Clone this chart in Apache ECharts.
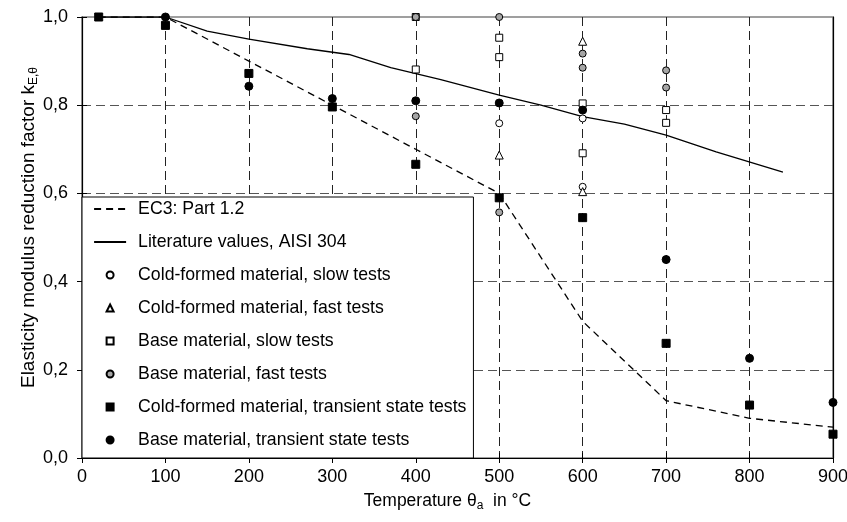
<!DOCTYPE html>
<html>
<head>
<meta charset="utf-8">
<script src="https://cdn.jsdelivr.net/npm/echarts@6/dist/echarts.min.js"></script>
<style>
  html, body { margin: 0; padding: 0; background: #fff; }
  #chart { width: 847px; height: 522px; }
</style>
</head>
<body>
<div id="chart"></div>
<script>
const FONT = '"Liberation Sans", Arial, sans-serif';

// EC3 Part 1.2 and literature curve (temperature in °C, reduction factor)
const ec3Temps = [20, 100, 200, 300, 400, 500, 600, 700, 800, 900];
const ec3Values = [1.0, 1.0, 0.90, 0.80, 0.70, 0.60, 0.31, 0.13, 0.09, 0.07];
const litTemps = [20, 100, 150, 200, 270, 320, 370, 430, 500, 550, 600, 650, 700, 760, 840];
const litValues = [1.0, 1.0, 0.968, 0.95, 0.928, 0.915, 0.885, 0.858, 0.823, 0.80, 0.774, 0.757, 0.732, 0.694, 0.648];

// test results [temperature, k]
const coldSlow = [[500, 0.759], [600, 0.770], [600, 0.615]];
const coldFast = [[500, 0.687], [600, 0.945], [600, 0.604]];
const baseSlow = [[400, 1.0], [400, 0.881], [500, 0.953], [500, 0.909], [600, 0.804], [600, 0.691], [700, 0.789], [700, 0.76]];
const baseFast = [[400, 1.0], [400, 0.775], [500, 1.0], [500, 0.557], [600, 0.917], [600, 0.885], [700, 0.879], [700, 0.84]];
const coldTransient = [[20, 1.0], [100, 0.981], [200, 0.872], [300, 0.796], [400, 0.666], [500, 0.59], [600, 0.545], [700, 0.26], [800, 0.12], [900, 0.054]];
const baseTransient = [[100, 1.0], [200, 0.843], [300, 0.815], [400, 0.81], [500, 0.805], [600, 0.789], [700, 0.45], [800, 0.226], [900, 0.126]];

const names = [
  'EC3: Part 1.2',
  'Literature values, AISI 304',
  'Cold-formed material, slow tests',
  'Cold-formed material, fast tests',
  'Base material, slow tests',
  'Base material, fast tests',
  'Cold-formed material, transient state tests',
  'Base material, transient state tests'
];

const SQUARE = 'path://M0,0H10V10H0Z';
const TRIANGLE = 'path://M5,0L10,10H0Z';

const zip = (xs, ys) => xs.map((x, i) => [x, ys[i]]);
const fmtK = (v) => v.toFixed(1).replace('.', ',');

const chart = echarts.init(document.getElementById('chart'));

const scatter = (name, data, symbol, size, fill) => ({
  name: name,
  type: 'scatter',
  data: data,
  symbol: symbol,
  symbolSize: size,
  itemStyle: { color: fill, borderColor: '#000', borderWidth: 1, opacity: 1 },
  emphasis: { disabled: true },
  clip: false,
  z: 5
});

// legend line entries: line only, no dot
const lineOnly = { opacity: 0, borderWidth: 0 };

const option = {
  animation: false,
  backgroundColor: '#fff',
  textStyle: { fontFamily: FONT, color: '#000' },
  grid: {
    left: 82, right: 14, top: 17, bottom: 64,
    show: true, borderColor: '#808080', borderWidth: 1.5,
    outerBoundsMode: 'none'
  },
  legend: {
    left: 82, top: 197,
    orient: 'vertical',
    selectedMode: false,
    backgroundColor: '#fff',
    borderColor: '#000',
    borderWidth: 1,
    borderRadius: 0,
    padding: [3, 7, 9, 11],
    itemWidth: 32,
    itemHeight: 7,
    itemGap: 15,
    textStyle: { fontSize: 17.7, fontFamily: FONT, color: '#000', lineHeight: 18, padding: [0, 0, 0, 7] },
    data: [
      { name: names[0], itemStyle: lineOnly, lineStyle: { width: 2.2, type: [7, 5] } },
      { name: names[1], itemStyle: lineOnly },
      { name: names[2], icon: 'circle' },
      { name: names[3], icon: TRIANGLE },
      { name: names[4], icon: SQUARE },
      { name: names[5], icon: 'circle' },
      { name: names[6], icon: SQUARE },
      { name: names[7], icon: 'circle' }
    ]
  },
  xAxis: [
    {
      type: 'value', min: 0, max: 900, interval: 100, position: 'bottom',
      axisLine: { lineStyle: { color: '#000', width: 1.2 } },
      axisTick: { length: 5, lineStyle: { color: '#000' } },
      axisLabel: { fontSize: 18, color: '#000', margin: 10, fontFamily: FONT },
      splitLine: { show: true, showMinLine: false, showMaxLine: false, lineStyle: { color: '#222', width: 1, type: [9, 5] } },
      name: '{t|Temperature θ}{s|a}{t|  in °C}',
      nameLocation: 'middle',
      nameGap: 32,
      nameTextStyle: {
        padding: [0, 20, 0, 0],
        rich: {
          t: { fontSize: 17.5, fontFamily: FONT, color: '#000', lineHeight: 20 },
          s: { fontSize: 12, fontFamily: FONT, color: '#000', lineHeight: 20, padding: [9, 0, 0, 0] }
        }
      }
    },
    {
      type: 'value', min: 0, max: 900, interval: 100, position: 'bottom',
      axisLine: { show: false },
      axisTick: { inside: true, length: 5, lineStyle: { color: '#000' } },
      axisLabel: { show: false },
      splitLine: { show: false }
    }
  ],
  yAxis: [
    {
      type: 'value', min: 0, max: 1, interval: 0.2, position: 'left',
      axisLine: { show: true, lineStyle: { color: '#000', width: 1.2 } },
      axisTick: { show: true, length: 5, lineStyle: { color: '#000' } },
      axisLabel: { fontSize: 18, color: '#000', margin: 14, fontFamily: FONT, formatter: fmtK },
      splitLine: { show: true, showMinLine: false, showMaxLine: false, lineStyle: { color: '#555', width: 1, type: [9, 5] } },
      name: '{t|Elasticity modulus reduction factor k}{s|E,θ}',
      nameLocation: 'middle',
      nameMoveOverlap: false,
      nameGap: 42,
      nameTextStyle: {
        padding: [0, 0, 0, 20],
        rich: {
          t: { fontSize: 19, fontFamily: FONT, color: '#000', lineHeight: 22 },
          s: { fontSize: 12, fontFamily: FONT, color: '#000', lineHeight: 22, padding: [10, 0, 0, 0] }
        }
      }
    },
    {
      type: 'value', min: 0, max: 1, interval: 0.2, position: 'left',
      axisLine: { show: false },
      axisTick: { show: true, inside: true, length: 5, lineStyle: { color: '#000' } },
      axisLabel: { show: false },
      splitLine: { show: false }
    },
    {
      type: 'value', min: 0, max: 1, interval: 0.2, position: 'right',
      axisLine: { show: true, lineStyle: { color: '#000', width: 1.2 } },
      axisTick: { show: false },
      axisLabel: { show: false },
      splitLine: { show: false }
    }
  ],
  series: [
    {
      name: names[0], type: 'line', data: zip(ec3Temps, ec3Values),
      symbol: 'none', lineStyle: { color: '#000', width: 1.3, type: [7, 5] },
      itemStyle: { color: '#000' }, emphasis: { disabled: true }, z: 3
    },
    {
      name: names[1], type: 'line', data: zip(litTemps, litValues),
      symbol: 'none', lineStyle: { color: '#000', width: 1.3 },
      itemStyle: { color: '#000' }, emphasis: { disabled: true }, z: 3
    },
    scatter(names[2], coldSlow, 'circle', 7, '#fff'),
    scatter(names[3], coldFast, 'triangle', 8, '#fff'),
    scatter(names[4], baseSlow, 'rect', 7, '#fff'),
    scatter(names[5], baseFast, 'circle', 7, '#a6a6a6'),
    scatter(names[6], coldTransient, 'rect', 8, '#000'),
    scatter(names[7], baseTransient, 'circle', 8, '#000')
  ]
};

chart.setOption(option);
</script>
</body>
</html>
